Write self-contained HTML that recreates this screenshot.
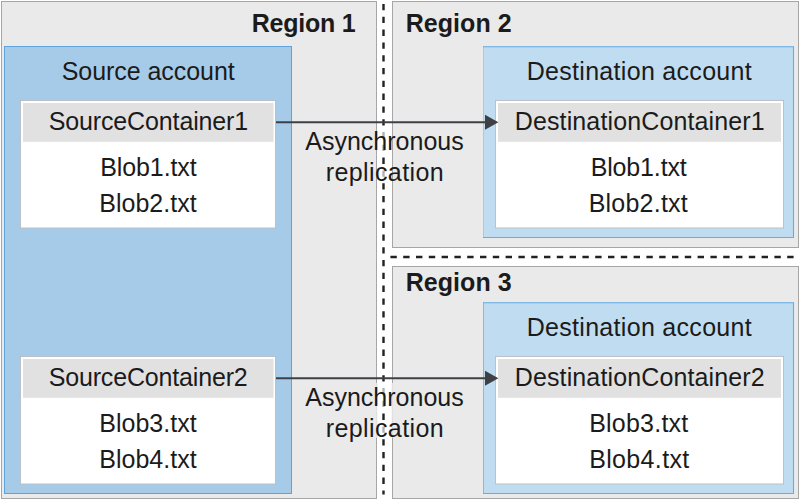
<!DOCTYPE html>
<html><head><meta charset="utf-8"><title>Object replication</title>
<style>
html,body{margin:0;padding:0;background:#fff;}
body{width:800px;height:500px;overflow:hidden;}
svg{display:block;}
text{font-family:"Liberation Sans",sans-serif;fill:#1b1b1b;}
</style></head><body>
<svg width="800" height="500" viewBox="0 0 800 500">
<rect x="0" y="0" width="800" height="500" fill="#ffffff"/>
<rect x="1.5" y="1.5" width="375" height="497" fill="#eaeaea" stroke="#a6a6a6" stroke-width="1"/>
<rect x="392.5" y="1.5" width="406" height="246" fill="#eaeaea" stroke="#a6a6a6" stroke-width="1"/>
<rect x="392.5" y="266.5" width="406" height="232" fill="#eaeaea" stroke="#a6a6a6" stroke-width="1"/>
<line x1="383.5" y1="4" x2="383.5" y2="494.5" stroke="#222222" stroke-width="2.4" stroke-dasharray="6.3 6.5"/>
<line x1="390.4" y1="257" x2="794" y2="257" stroke="#222222" stroke-width="2.4" stroke-dasharray="6.4 6.4"/>
<rect x="4.5" y="46.5" width="287" height="447" fill="#a6cbe8" stroke="#5ea3dc" stroke-width="1"/>
<rect x="483" y="46.0" width="311" height="192" fill="#c0dcf0"/>
<path d="M483,46.8 H793.5 V237.5 H483" fill="none" stroke="#6cabde" stroke-width="1.1"/>
<line x1="483.5" y1="46.5" x2="483.5" y2="237.5" stroke="#6cabde" stroke-opacity="0.35" stroke-width="1"/>
<rect x="483" y="302.0" width="311" height="192" fill="#c0dcf0"/>
<path d="M483,302.8 H793.5 V493.5 H483" fill="none" stroke="#6cabde" stroke-width="1.1"/>
<line x1="483.5" y1="302.5" x2="483.5" y2="493.5" stroke="#6cabde" stroke-opacity="0.7" stroke-width="1"/>
<rect x="20.5" y="100.5" width="255" height="127.5" fill="#ffffff" stroke="#b9c1ca" stroke-width="1"/>
<rect x="23" y="103" width="250.5" height="38.8" fill="#e1e1e1"/>
<rect x="495.5" y="100.5" width="288" height="127.5" fill="#ffffff" stroke="#b9c1ca" stroke-width="1"/>
<rect x="498" y="103" width="283" height="38.8" fill="#e1e1e1"/>
<rect x="20.5" y="356.5" width="255" height="127.5" fill="#ffffff" stroke="#b9c1ca" stroke-width="1"/>
<rect x="23" y="359" width="250.5" height="38.8" fill="#e1e1e1"/>
<rect x="495.5" y="356.5" width="288" height="127.5" fill="#ffffff" stroke="#b9c1ca" stroke-width="1"/>
<rect x="498" y="359" width="283" height="38.8" fill="#e1e1e1"/>
<line x1="276" y1="122.2" x2="487" y2="122.2" stroke="#3f3f46" stroke-width="2"/>
<polygon points="485,114.7 498.4,122.2 485,129.7" fill="#3f3f46"/>
<line x1="276" y1="378.2" x2="487" y2="378.2" stroke="#3f3f46" stroke-width="2"/>
<polygon points="485,370.7 498.4,378.2 485,385.7" fill="#3f3f46"/>
<rect x="381.5" y="127" width="4" height="27" fill="#ffffff" fill-opacity="0.65"/>
<rect x="381.5" y="166" width="4" height="15.699999999999989" fill="#ffffff" fill-opacity="0.65"/>
<rect x="375.5" y="383" width="2" height="54.7" fill="#eaeaea" fill-opacity="0.85"/>
<rect x="391.5" y="383" width="2" height="54.7" fill="#eaeaea" fill-opacity="0.85"/>
<rect x="381.5" y="383" width="4" height="27" fill="#ffffff" fill-opacity="0.65"/>
<rect x="381.5" y="422" width="4" height="15.699999999999989" fill="#ffffff" fill-opacity="0.65"/>
<text x="251.7" y="32.3" font-size="25" font-weight="700" textLength="104.0" lengthAdjust="spacing">Region 1</text>
<text x="405.7" y="32.3" font-size="25" font-weight="700" textLength="106.0" lengthAdjust="spacing">Region 2</text>
<text x="405.7" y="291.3" font-size="25" font-weight="700" textLength="106.0" lengthAdjust="spacing">Region 3</text>
<text x="61.7" y="79.8" font-size="25" textLength="173.0" lengthAdjust="spacing">Source account</text>
<text x="526.7" y="79.8" font-size="25" textLength="225.0" lengthAdjust="spacing">Destination account</text>
<text x="526.7" y="335.8" font-size="25" textLength="225.0" lengthAdjust="spacing">Destination account</text>
<text x="48.7" y="129.7" font-size="25" textLength="199.5" lengthAdjust="spacing">SourceContainer1</text>
<text x="514.7" y="129.7" font-size="25" textLength="250.0" lengthAdjust="spacing">DestinationContainer1</text>
<text x="100.2" y="175.8" font-size="25" textLength="96.5" lengthAdjust="spacing">Blob1.txt</text>
<text x="99.2" y="211.8" font-size="25" textLength="97.5" lengthAdjust="spacing">Blob2.txt</text>
<text x="590.7" y="175.8" font-size="25" textLength="96.0" lengthAdjust="spacing">Blob1.txt</text>
<text x="588.7" y="211.8" font-size="25" textLength="99.0" lengthAdjust="spacing">Blob2.txt</text>
<text x="305.2" y="149.5" font-size="25" textLength="158.5" lengthAdjust="spacing">Asynchronous</text>
<text x="325.7" y="181.0" font-size="25" textLength="118.0" lengthAdjust="spacing">replication</text>
<text x="48.7" y="385.7" font-size="25" textLength="199.0" lengthAdjust="spacing">SourceContainer2</text>
<text x="514.7" y="385.7" font-size="25" textLength="250.0" lengthAdjust="spacing">DestinationContainer2</text>
<text x="99.2" y="431.8" font-size="25" textLength="97.5" lengthAdjust="spacing">Blob3.txt</text>
<text x="99.2" y="467.8" font-size="25" textLength="97.5" lengthAdjust="spacing">Blob4.txt</text>
<text x="589.2" y="431.8" font-size="25" textLength="99.0" lengthAdjust="spacing">Blob3.txt</text>
<text x="589.2" y="467.8" font-size="25" textLength="100.0" lengthAdjust="spacing">Blob4.txt</text>
<text x="305.2" y="405.5" font-size="25" textLength="158.5" lengthAdjust="spacing">Asynchronous</text>
<text x="325.7" y="437.0" font-size="25" textLength="118.0" lengthAdjust="spacing">replication</text>
</svg></body></html>
